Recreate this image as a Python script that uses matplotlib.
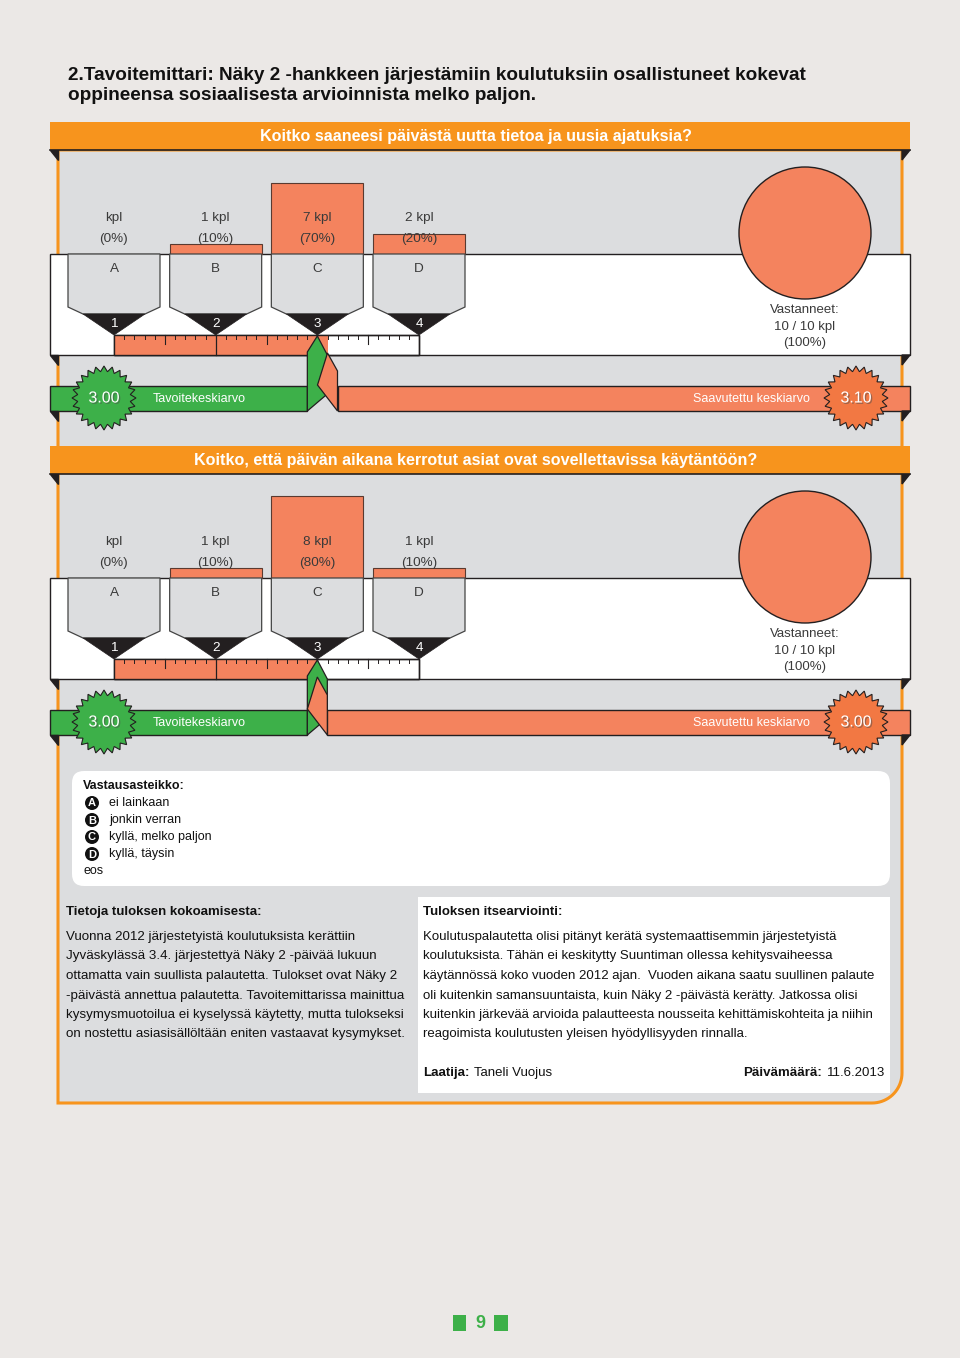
import matplotlib.pyplot as plt
import numpy as np
from matplotlib.patches import Rectangle, Polygon, Circle, Wedge, FancyBboxPatch, PathPatch
from matplotlib.path import Path
import matplotlib.patheffects as pe

# ---- data ----
title_lines = ["2.Tavoitemittari: Näky 2 -hankkeen järjestämiin koulutuksiin osallistuneet kokevat",
               "oppineensa sosiaalisesta arvioinnista melko paljon."]
questions = ["Koitko saaneesi päivästä uutta tietoa ja uusia ajatuksia?",
             "Koitko, että päivän aikana kerrotut asiat ovat sovellettavissa käytäntöön?"]
choices = ["A", "B", "C", "D"]
scale_values = [1, 2, 3, 4]
counts_q1 = [0, 1, 7, 2]
counts_q2 = [0, 1, 8, 1]
target_avg = [3.00, 3.00]
achieved_avg = [3.10, 3.00]
answered = [10, 10]
total = [10, 10]

legend_items = ["ei lainkaan", "jonkin verran", "kyllä, melko paljon", "kyllä, täysin"]

left_title = "Tietoja tuloksen kokoamisesta:"
left_lines = ["Vuonna 2012 järjestetyistä koulutuksista kerättiin",
              "Jyväskylässä 3.4. järjestettyä Näky 2 -päivää lukuun",
              "ottamatta vain suullista palautetta. Tulokset ovat Näky 2",
              "-päivästä annettua palautetta. Tavoitemittarissa mainittua",
              "kysymysmuotoilua ei kyselyssä käytetty, mutta tulokseksi",
              "on nostettu asiasisällöltään eniten vastaavat kysymykset."]
right_title = "Tuloksen itsearviointi:"
right_lines = ["Koulutuspalautetta olisi pitänyt kerätä systemaattisemmin järjestetyistä",
               "koulutuksista. Tähän ei keskitytty Suuntiman ollessa kehitysvaiheessa",
               "käytännössä koko vuoden 2012 ajan.  Vuoden aikana saatu suullinen palaute",
               "oli kuitenkin samansuuntaista, kuin Näky 2 -päivästä kerätty. Jatkossa olisi",
               "kuitenkin järkevää arvioida palautteesta nousseita kehittämiskohteita ja niihin",
               "reagoimista koulutusten yleisen hyödyllisyyden rinnalla."]
author = "Taneli Vuojus"
date = "11.6.2013"
page_no = "9"

# ---- colours ----
BG = "#ebe8e6"
ORANGE = "#f7941d"
SALMON = "#f4835e"
STAR_OR = "#f27843"
GRAY = "#dcdddf"
GREEN = "#3db049"
DARK = "#231f20"
TXT = "#3a3a3a"

plt.rcParams['font.family'] = ['Liberation Sans', 'DejaVu Sans']

fig = plt.figure(figsize=(9.6, 13.58), dpi=100, facecolor=BG)
ax = fig.add_axes([0, 0, 1, 1])
ax.set_xlim(0, 960)
ax.set_ylim(1358, 0)
ax.axis('off')

# title
for i, line in enumerate(title_lines):
    ax.text(68, 75 + i * 21, line, fontsize=13.7, fontweight='bold', color='#111111',
            family=['Liberation Sans Narrow', 'Liberation Sans'], va='center', ha='left')

# main gray panel with rounded bottom right corner
r = 30
arc = [(872 + r * np.cos(t), 1073 + r * np.sin(t)) for t in np.linspace(0, np.pi / 2, 20)]
verts = [(58, 150), (902, 150)] + arc + [(58, 1103), (58, 150)]
codes = [Path.MOVETO] + [Path.LINETO] * (len(verts) - 2) + [Path.CLOSEPOLY]
ax.add_patch(PathPatch(Path(verts, codes), facecolor=GRAY, edgecolor=ORANGE, lw=2.2, zorder=1))


def fold(yb, z=2):
    ax.add_patch(Polygon([(50, yb), (58, yb), (58, yb + 10)], closed=True, color=DARK, zorder=z))
    ax.add_patch(Polygon([(902, yb), (910, yb), (902, yb + 10)], closed=True, color=DARK, zorder=z))


def xs(v):
    return 114 + (v - 1) * (419 - 114) / 3.0


def starburst(cx, cy, color, label):
    n = 24
    ang = np.linspace(0, 2 * np.pi, 2 * n, endpoint=False)
    rad = np.where(np.arange(2 * n) % 2 == 0, 32, 26.5)
    pts = np.c_[cx + rad * np.cos(ang), cy + rad * np.sin(ang)]
    ax.add_patch(Polygon(pts, closed=True, facecolor=color, edgecolor=DARK, lw=0.8, zorder=8))
    ax.text(cx, cy, label, fontsize=11.5, color='white', ha='center', va='center', zorder=9,
            path_effects=[pe.withSimplePatchShadow(offset=(1, -1), alpha=0.5)])


def section(y0, question, counts, target, achieved, n_ans, n_tot):
    # header
    ax.add_patch(Rectangle((50, y0), 860, 28, facecolor=ORANGE, edgecolor='none', zorder=3))
    ax.plot([50, 910], [y0 + 28, y0 + 28], color=DARK, lw=1.2, zorder=3)
    fold(y0 + 28)
    ax.text(476, y0 + 14, question, fontsize=11.6, fontweight='bold', color='white',
            ha='center', va='center', zorder=4)

    base = y0 + 132
    # white band
    ax.add_patch(Rectangle((50, base), 860, 101, facecolor='white', edgecolor=DARK, lw=1, zorder=2))
    fold(base + 101)

    n = sum(counts)
    for i, (ch, c) in enumerate(zip(choices, counts)):
        cx = xs(scale_values[i])
        pct = 100.0 * c / n
        h = pct * 1.02
        if h > 0:
            ax.add_patch(Rectangle((cx - 46, base - h), 92, h, facecolor=SALMON,
                                   edgecolor='#5a3a30', lw=0.8, zorder=3))
        ax.text(cx, y0 + 96, (f"{c} kpl" if c else "kpl"), fontsize=9.7, color=TXT,
                ha='center', va='center', zorder=5)
        ax.text(cx, y0 + 117, f"({pct:.0f}%)", fontsize=9.7, color=TXT,
                ha='center', va='center', zorder=5)
        # funnel
        body = [(cx - 46, base), (cx - 46, base + 53), (cx - 31, base + 60),
                (cx + 31, base + 60), (cx + 46, base + 53), (cx + 46, base)]
        ax.add_patch(Polygon(body, closed=True, facecolor=GRAY, edgecolor='#444444', lw=0.9, zorder=3))
        ax.add_patch(Polygon([(cx - 31, base + 60), (cx + 31, base + 60), (cx, base + 81)],
                             closed=True, facecolor=DARK, edgecolor=DARK, lw=0.5, zorder=4))
        ax.text(cx, base + 15, ch, fontsize=9.7, color=TXT, ha='center', va='center', zorder=5)
        ax.text(cx, base + 70, str(scale_values[i]), fontsize=9.7, color='white',
                ha='center', va='center', zorder=5)

    # scale bar
    sy = base + 81
    x1, x4 = xs(1), xs(4)
    ax.add_patch(Rectangle((x1, sy), x4 - x1, 20, facecolor='white', edgecolor=DARK, lw=1, zorder=4))
    ax.add_patch(Rectangle((x1, sy), xs(achieved) - x1, 20, facecolor=SALMON, edgecolor='none', zorder=4))
    ax.add_patch(Rectangle((x1, sy), x4 - x1, 20, facecolor='none', edgecolor=DARK, lw=1, zorder=5))
    for k in range(1, 30):
        v = 1 + k / 10.0
        if k % 10 == 0:
            ax.plot([xs(v), xs(v)], [sy, sy + 20], color=DARK, lw=0.9, zorder=5)
        elif k % 5 == 0:
            ax.plot([xs(v), xs(v)], [sy, sy + 9], color=DARK, lw=0.8, zorder=5)
        else:
            ax.plot([xs(v), xs(v)], [sy, sy + 4], color=DARK, lw=0.7, zorder=5)

    # ribbons
    ry = y0 + 264
    xt, xa = xs(target), xs(achieved)
    ax.add_patch(Rectangle((50, ry), xt - 10 - 50, 25, facecolor=GREEN, edgecolor=DARK, lw=1, zorder=6))
    ax.add_patch(Rectangle((xa + 10, ry), 910 - xa - 10, 25, facecolor=SALMON, edgecolor=DARK, lw=1, zorder=6))
    fold(ry + 25, z=6)
    ax.add_patch(Polygon([(xt - 10, ry + 25), (xt - 10, sy + 17), (xt, sy + 1), (xt + 10, sy + 20),
                          (xt + 10, ry + 8)], closed=True,
                         facecolor=GREEN, edgecolor=DARK, lw=0.9, zorder=7))
    ax.add_patch(Polygon([(xa, sy + 18), (xa + 10, sy + 36), (xa + 10, ry + 25),
                          (xa - 10, ry - 1)], closed=True,
                         facecolor=SALMON, edgecolor=DARK, lw=0.9, zorder=7))
    ax.text(153, ry + 13, "Tavoitekeskiarvo", fontsize=9, color='white', ha='left', va='center', zorder=8)
    ax.text(810, ry + 13, "Saavutettu keskiarvo", fontsize=9, color='white', ha='right', va='center', zorder=8)
    starburst(104, ry + 12, GREEN, f"{target:.2f}")
    starburst(856, ry + 12, STAR_OR, f"{achieved:.2f}")

    # respondents pie
    frac = n_ans / n_tot
    pcx, pcy = 805, y0 + 111
    if frac >= 1:
        ax.add_patch(Circle((pcx, pcy), 66, facecolor=SALMON, edgecolor=DARK, lw=1, zorder=6))
    else:
        ax.add_patch(Circle((pcx, pcy), 66, facecolor='white', edgecolor=DARK, lw=1, zorder=6))
        ax.add_patch(Wedge((pcx, pcy), 66, -90, -90 + 360 * frac, facecolor=SALMON,
                           edgecolor=DARK, lw=1, zorder=6))
    ax.text(pcx, y0 + 188, "Vastanneet:", fontsize=9.5, color=TXT, ha='center', va='center', zorder=6)
    ax.text(pcx, y0 + 205, f"{n_ans} / {n_tot} kpl", fontsize=9.5, color=TXT, ha='center', va='center', zorder=6)
    ax.text(pcx, y0 + 221, f"({100 * frac:.0f}%)", fontsize=9.5, color=TXT, ha='center', va='center', zorder=6)


section(122, questions[0], counts_q1, target_avg[0], achieved_avg[0], answered[0], total[0])
section(446, questions[1], counts_q2, target_avg[1], achieved_avg[1], answered[1], total[1])

# legend box
ax.add_patch(FancyBboxPatch((84, 783), 794, 91, boxstyle="round,pad=12", facecolor='white',
                            edgecolor='none', zorder=2))
ax.text(83, 786, "Vastausasteikko:", fontsize=9, fontweight='bold', color='#111111', va='center', zorder=3)
for i, (ch, item) in enumerate(zip(choices, legend_items)):
    yy = 803 + i * 17
    ax.add_patch(Circle((92, yy), 7, facecolor='#111111', edgecolor='none', zorder=3))
    ax.text(92, yy + 0.5, ch, fontsize=8, fontweight='bold', color='white', ha='center', va='center', zorder=4)
    ax.text(109, yy, item, fontsize=9, color='#111111', va='center', zorder=3)
ax.text(83, 871, "eos", fontsize=9, color='#111111', va='center', zorder=3)

# bottom text blocks
ax.add_patch(Rectangle((418, 897), 472, 196, facecolor='white', edgecolor='none', zorder=2))
ax.text(66, 912, left_title, fontsize=9.5, fontweight='bold', color='#111111', va='center', zorder=3)
ax.text(423, 912, right_title, fontsize=9.5, fontweight='bold', color='#111111', va='center', zorder=3)
for i, line in enumerate(left_lines):
    ax.text(66, 937 + i * 19.5, line, fontsize=9.6, color='#111111', va='center', zorder=3)
for i, line in enumerate(right_lines):
    ax.text(423, 937 + i * 19.5, line, fontsize=9.5, color='#111111', va='center', zorder=3)
ax.text(423, 1073, "Laatija:", fontsize=9.5, fontweight='bold', color='#111111', va='center', zorder=3)
ax.text(474, 1073, author, fontsize=9.5, color='#111111', va='center', zorder=3)
ax.text(822, 1073, "Päivämäärä:", fontsize=9.5, fontweight='bold', color='#111111', va='center', ha='right', zorder=3)
ax.text(885, 1073, date, fontsize=9.5, color='#111111', va='center', ha='right', zorder=3)

# page number
ax.add_patch(Rectangle((453, 1315), 13, 16, facecolor=GREEN, edgecolor='none'))
ax.add_patch(Rectangle((494, 1315), 14, 16, facecolor=GREEN, edgecolor='none'))
ax.text(480, 1323, page_no, fontsize=13, fontweight='bold', color=GREEN, ha='center', va='center')

fig.savefig('out.png', dpi=100, facecolor=BG)
